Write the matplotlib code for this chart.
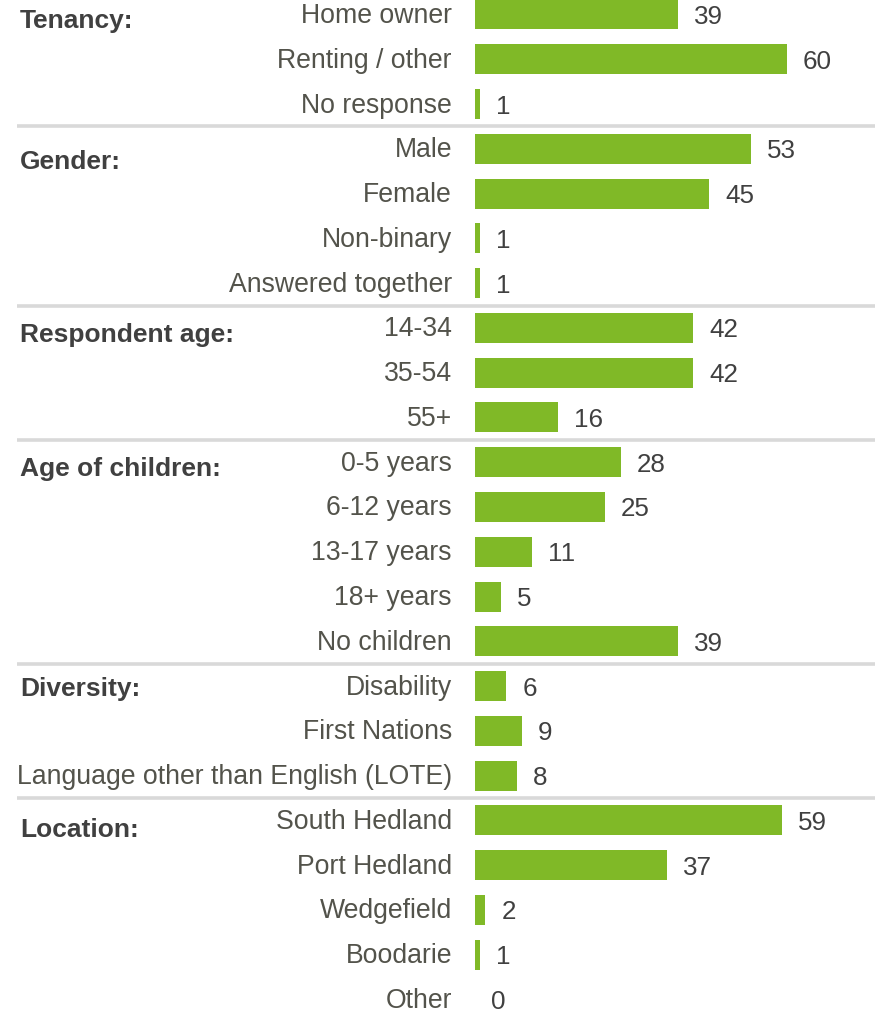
import matplotlib
matplotlib.use("Agg")
import matplotlib.pyplot as plt

plt.rcParams['font.family'] = ['Liberation Sans', 'DejaVu Sans']

groups = ["Tenancy:", "Gender:", "Respondent age:", "Age of children:", "Diversity:", "Location:"]
group_labels = [
    ["Home owner", "Renting / other", "No response"],
    ["Male", "Female", "Non-binary", "Answered together"],
    ["14-34", "35-54", "55+"],
    ["0-5 years", "6-12 years", "13-17 years", "18+ years", "No children"],
    ["Disability", "First Nations", "Language other than English (LOTE)"],
    ["South Hedland", "Port Hedland", "Wedgefield", "Boodarie", "Other"],
]
group_values = [
    [39, 60, 1],
    [53, 45, 1, 1],
    [42, 42, 16],
    [28, 25, 11, 5, 39],
    [6, 9, 8],
    [59, 37, 2, 1, 0],
]
# baseline offset of each group header below its first row centre (pixels)
header_offsets_px = [13.5, 20, 14, 14, 9.6, 16.5]

W, H = 875, 1013
fig = plt.figure(figsize=(W / 100, H / 100), dpi=100)
ax = fig.add_axes([0, 0, 1, 1])

pxu = 5.2          # pixels per unit on x
x0 = 475           # pixel of zero
row_px = 44.77
y0_px = 14.5
ax.set_xlim(-x0 / pxu, (W - x0) / pxu)
ax.set_ylim((H - y0_px) / row_px, -y0_px / row_px)
ax.axis('off')

green = '#80b927'
text_col = '#53534b'

labels = [l for g in group_labels for l in g]
values = [v for g in group_values for v in g]
ypos = list(range(len(labels)))

ax.barh(ypos, values, height=0.67, color=green, edgecolor='none')

for y, lab, v in zip(ypos, labels, values):
    ax.text(-23 / pxu, y + 8.5 / row_px, lab, ha='right', va='baseline', fontsize=19.2, color=text_col)
    ax.text(v + 16 / pxu, y + 9.5 / row_px, str(v), ha='left', va='baseline', fontsize=18.7, color='#404040')

start = 0
for gi, (g, gl) in enumerate(zip(groups, group_labels)):
    ax.text(-455 / pxu, start + header_offsets_px[gi] / row_px, g, ha='left', va='baseline',
            fontsize=19, fontweight='bold', color='#404040')
    if gi > 0:
        ax.plot([-458 / pxu, (W - x0) / pxu], [start - 0.5, start - 0.5], color='#d9d9d9',
                lw=2.6, solid_capstyle='butt', clip_on=False)
    start += len(gl)

fig.savefig('out.png', dpi=100, facecolor='white')
